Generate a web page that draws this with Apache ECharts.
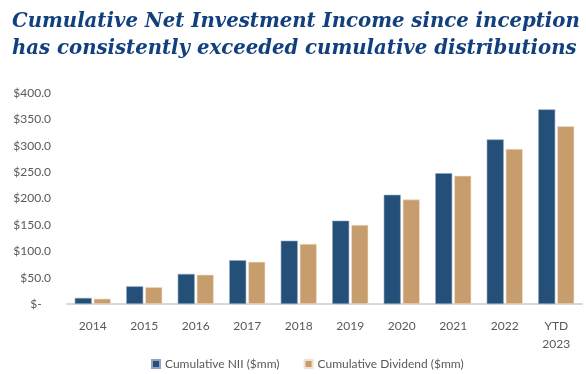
<!DOCTYPE html>
<html><head><meta charset="utf-8">
<script src="https://cdn.jsdelivr.net/npm/echarts@6/dist/echarts.min.js"></script>
<style>html,body{margin:0;padding:0;background:#fff}#c{width:586px;height:374px}</style>
</head><body><div id="c"></div>
<script>
const categories = ['2014','2015','2016','2017','2018','2019','2020','2021','2022','YTD\n2023'];
const nii = [11.5, 33.5, 57, 83, 120, 158, 207, 248, 312, 369];
const dividend = [10, 32, 55.5, 80, 114, 150, 198, 243, 294, 337];
const seriesNames = ['Cumulative NII ($mm)', 'Cumulative Dividend ($mm)'];
const titleText = 'Cumulative Net Investment Income since inception\nhas consistently exceeded cumulative distributions';

const chart = echarts.init(document.getElementById('c'), null, {renderer:'canvas'});
const lblFont = 'Lato';
chart.setOption({
  animation:false,
  title:{
    text:titleText, left:7, top:3,
    textStyle:{fontFamily:'DejaVu Serif', fontStyle:'italic', fontWeight:'bold', fontSize:19.7, lineHeight:27, color:'#123f7e'}
  },
  legend:{
    data:seriesNames, bottom:-1, left:146, itemWidth:8, itemHeight:8, itemGap:24, icon:'rect',
    textStyle:{fontFamily:lblFont, fontSize:12, color:'#595959'}
  },
  grid:{left:67, right:4, top:93, bottom:70, containLabel:false},
  xAxis:{
    type:'category', data:categories,
    axisLine:{lineStyle:{color:'#d9d9d9', width:2}},
    axisTick:{show:false},
    axisLabel:{fontFamily:lblFont, fontSize:12, color:'#595959', margin:13, lineHeight:18, interval:0}
  },
  yAxis:{
    type:'value', min:0, max:400, interval:50,
    splitLine:{show:false}, axisLine:{show:false}, axisTick:{show:false},
    axisLabel:{fontFamily:lblFont, fontSize:12, color:'#595959', margin:16,
      formatter:v => v===0 ? '$-   ' : '$' + v.toFixed(1)}
  },
  series:[
    {name:seriesNames[0], type:'bar', data:nii, barWidth:17, barGap:'12%',
     itemStyle:{color:'#244f78', borderColor:'#8ea6bf', borderWidth:0.6}},
    {name:seriesNames[1], type:'bar', data:dividend, barWidth:17,
     itemStyle:{color:'#c89d6e', borderColor:'#efe0cf', borderWidth:0.6}}
  ]
});
</script></body></html>
